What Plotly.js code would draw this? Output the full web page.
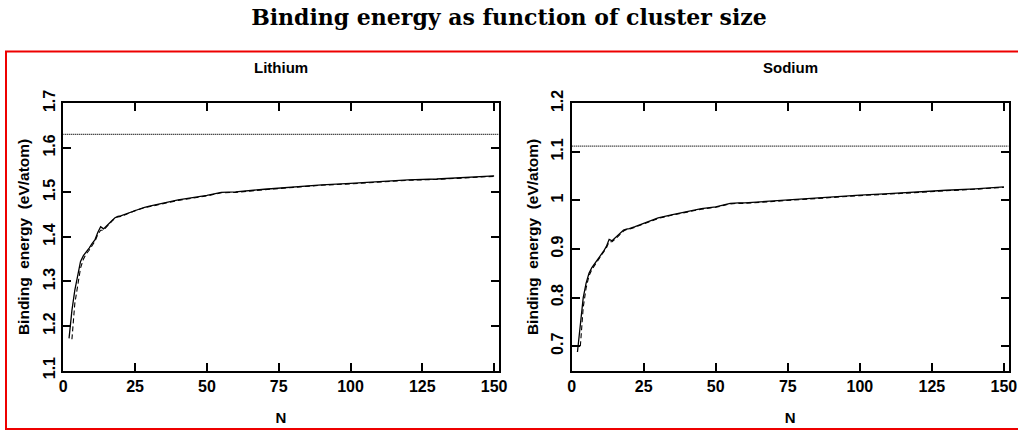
<!DOCTYPE html>
<html>
<head>
<meta charset="utf-8">
<script src="https://cdn.plot.ly/plotly-3.0.1.min.js"></script>
<style>html,body{margin:0;padding:0;background:#fff;}#chart{width:1018px;height:430px;}</style>
</head>
<body>
<div id="chart"></div>
<script>
// ---- Data ----
const chartTitle = "Binding energy as function of cluster size";
const panelTitles = ["Lithium", "Sodium"];
const xTitle = "N";
const yTitle = "Binding\u00a0\u00a0energy\u00a0\u00a0(eV/atom)";

const nSolid = [2,3,4,5,6,7,8,9,10,11,12,13,14,15,16,17,18,19,20,22,25,28,30,35,40,45,50,55,58,60,70,80,90,100,110,120,130,140,150];
const liSolid = [1.172,1.235,1.28,1.315,1.345,1.358,1.366,1.375,1.385,1.393,1.41,1.423,1.418,1.425,1.43,1.437,1.443,1.446,1.447,1.452,1.46,1.466,1.469,1.476,1.483,1.488,1.493,1.500,1.501,1.501,1.507,1.512,1.517,1.520,1.524,1.528,1.530,1.533,1.537];
const naSolid = [0.688,0.74,0.80,0.83,0.85,0.862,0.87,0.88,0.888,0.895,0.905,0.92,0.917,0.922,0.928,0.934,0.939,0.941,0.942,0.946,0.953,0.96,0.964,0.971,0.977,0.983,0.987,0.994,0.995,0.995,0.999,1.003,1.008,1.011,1.014,1.018,1.021,1.024,1.028];

const nDashed = [3,4,5,6,7,8,9,10,11,12,13,14,15,16,17,18,19,20,22,25,28,30,35,40,45,50,55,58,60,70,80,90,100,110,120,130,140,150];
const liDashed = [1.17,1.25,1.29,1.33,1.35,1.362,1.37,1.38,1.39,1.405,1.415,1.415,1.423,1.429,1.436,1.442,1.445,1.446,1.451,1.459,1.465,1.468,1.475,1.482,1.487,1.492,1.499,1.500,1.500,1.506,1.511,1.516,1.519,1.523,1.527,1.529,1.532,1.536];
const naDashed = [0.70,0.78,0.82,0.845,0.858,0.867,0.877,0.885,0.893,0.902,0.915,0.915,0.92,0.926,0.932,0.937,0.94,0.941,0.945,0.952,0.959,0.963,0.970,0.976,0.982,0.986,0.993,0.994,0.994,0.998,1.002,1.007,1.010,1.013,1.017,1.020,1.023,1.027];

const nBulk = [0, 151.6];
const liBulk = [1.63, 1.63];
const naBulk = [1.112, 1.112];

const xTicks = [0,25,50,75,100,125,150];
const liTicks = [1.1,1.2,1.3,1.4,1.5,1.6,1.7];
const naTicks = [0.7,0.8,0.9,1,1.1,1.2];

// ---- Traces ----
const solid = {color:"#000", width:1.3};
const dashed = {color:"#000", width:1.1, dash:"5px,3px"};
const dotted = {color:"#000", width:1.3, dash:"1px,1px"};

const traces = [
  {x:nBulk, y:liBulk, mode:"lines", line:dotted, xaxis:"x", yaxis:"y", hoverinfo:"skip"},
  {x:nDashed, y:liDashed, mode:"lines", line:dashed, xaxis:"x", yaxis:"y"},
  {x:nSolid, y:liSolid, mode:"lines", line:solid, xaxis:"x", yaxis:"y"},
  {x:nBulk, y:naBulk, mode:"lines", line:dotted, xaxis:"x2", yaxis:"y2", hoverinfo:"skip"},
  {x:nDashed, y:naDashed, mode:"lines", line:dashed, xaxis:"x2", yaxis:"y2"},
  {x:nSolid, y:naSolid, mode:"lines", line:solid, xaxis:"x2", yaxis:"y2"}
];

const W = 1018, H = 430;
const sans = "Liberation Sans, Arial, sans-serif";
const tickFont = {family:sans, size:16, color:"#000", weight:"bold"};
const titleFont = {family:sans, size:15, color:"#000", weight:"bold"};
const yTitleFont = {family:sans, size:15.5, color:"#000", weight:"bold"};

function xAxis(domain, anchor){
  return {
    domain: domain, anchor: anchor, range:[0,151.6],
    tickvals: xTicks, ticktext: xTicks.map(String),
    ticks:"inside", ticklen:8, tickwidth:2, tickcolor:"#000",
    showline:true, linecolor:"#000", linewidth:2, mirror:"ticks",
    showgrid:false, zeroline:false, tickfont:tickFont,
    title:{text:xTitle, font:titleFont, standoff:19}
  };
}
function yAxis(range, ticks, anchor){
  return {
    domain:[1-370.5/H, 1-103.3/H], anchor: anchor, range: range,
    tickvals: ticks, ticktext: ticks.map(String),
    ticks:"inside", ticklen:8, tickwidth:2, tickcolor:"#000",
    showline:true, linecolor:"#000", linewidth:2, mirror:"ticks",
    showgrid:false, zeroline:false, tickfont:tickFont, tickangle:-90,
    title:{text:yTitle, font:yTitleFont, standoff:7}
  };
}

const layout = {
  width:W, height:H,
  margin:{l:0, r:0, t:0, b:0},
  paper_bgcolor:"#fff", plot_bgcolor:"#fff",
  showlegend:false,
  title:{text:"<b>"+chartTitle+"</b>", x:0.5, xanchor:"center", y:1-17/H, yanchor:"middle",
         font:{family:"DejaVu Serif, serif", size:22, color:"#000"}},
  xaxis: xAxis([63.3/W, 498.7/W], "y"),
  yaxis: yAxis([1.1,1.7], liTicks, "x"),
  xaxis2: xAxis([571.7/W, 1008.5/W], "y2"),
  yaxis2: yAxis([0.65,1.2], naTicks, "x2"),
  annotations:[
    {text:panelTitles[0], xref:"paper", yref:"paper", x:281/W, y:1-67/H, showarrow:false, xanchor:"center", yanchor:"middle", font:titleFont},
    {text:panelTitles[1], xref:"paper", yref:"paper", x:790/W, y:1-67/H, showarrow:false, xanchor:"center", yanchor:"middle", font:titleFont}
  ],
  shapes:[
    {type:"rect", xref:"paper", yref:"paper", x0:6/W, x1:1.01, y0:1-429/H, y1:1-51.5/H, line:{color:"#ee0000", width:2}, fillcolor:"rgba(0,0,0,0)", layer:"below"}
  ]
};

Plotly.newPlot("chart", traces, layout, {displayModeBar:false, staticPlot:true});
</script>
</body>
</html>
